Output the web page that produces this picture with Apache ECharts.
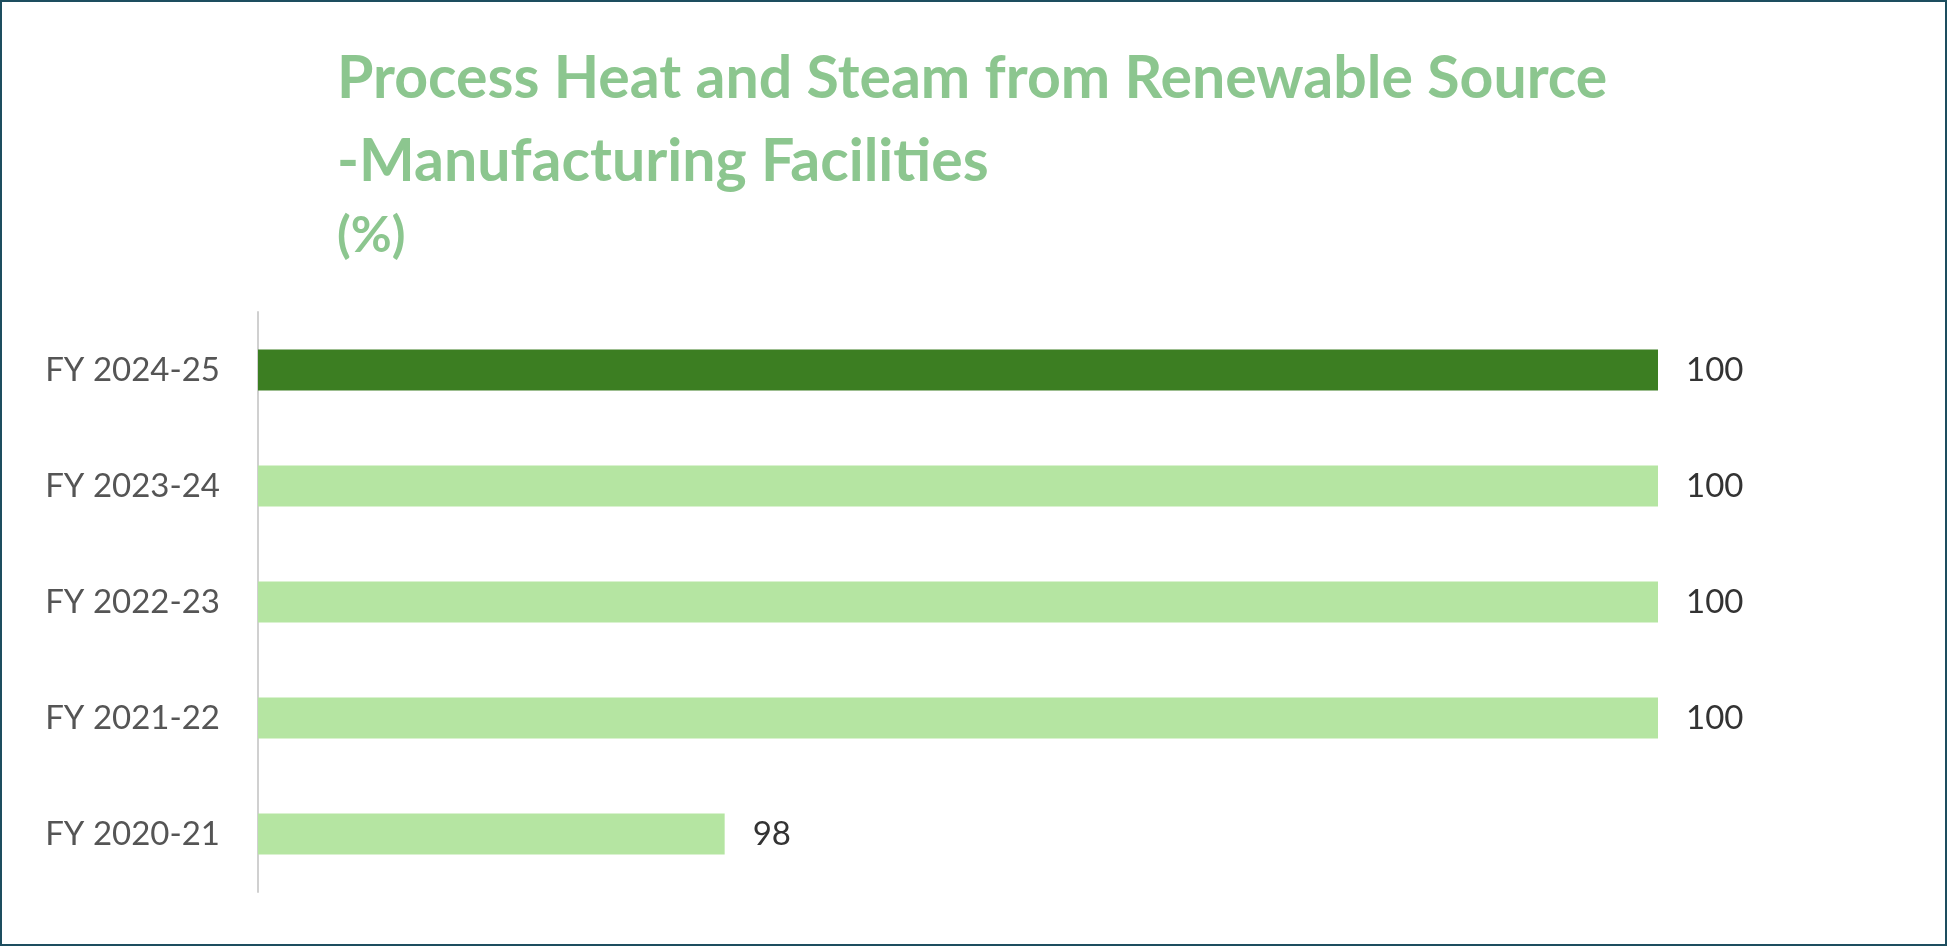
<!DOCTYPE html>
<html><head><meta charset="utf-8">
<script src="https://cdn.jsdelivr.net/npm/echarts@6/dist/echarts.min.js"></script>
<style>html,body{margin:0;padding:0;background:#fff}#c{width:1947px;height:946px;box-sizing:border-box;border:2px solid #1d4e5f}</style>
</head><body><div id="c"></div>
<script>
const categories = ['FY 2020-21','FY 2021-22','FY 2022-23','FY 2023-24','FY 2024-25'];
const values = [98,100,100,100,100];
const colors = ['#b5e5a2','#b5e5a2','#b5e5a2','#b5e5a2','#3c7e22'];
const chart = echarts.init(document.getElementById('c'));
chart.setOption({
  animation:false,
  title:{text:'Process Heat and Steam from Renewable Source\n-Manufacturing Facilities\n{s|(%)}',left:330,top:30,
    textStyle:{fontFamily:'Lato',fontWeight:'bold',fontSize:59,color:'#8cc68f',lineHeight:83,
      rich:{s:{fontFamily:'Lato',fontWeight:'bold',fontSize:50,color:'#8cc68f',lineHeight:66}}}},
  grid:{left:256,right:287,top:310,bottom:52},
  xAxis:{type:'value',min:97,max:100,show:false},
  yAxis:{type:'category',data:categories,
    axisLine:{lineStyle:{color:'#d0d0d0',width:2}},axisTick:{show:false},
    axisLabel:{fontFamily:'Lato',fontSize:33,color:'#555',margin:38}},
  series:[{type:'bar',barWidth:41,
    data:values.map((v,i)=>({value:v,itemStyle:{color:colors[i]}})),
    label:{show:true,position:'right',distance:28,fontFamily:'Lato',fontSize:33,color:'#333'}}]
});
</script></body></html>
